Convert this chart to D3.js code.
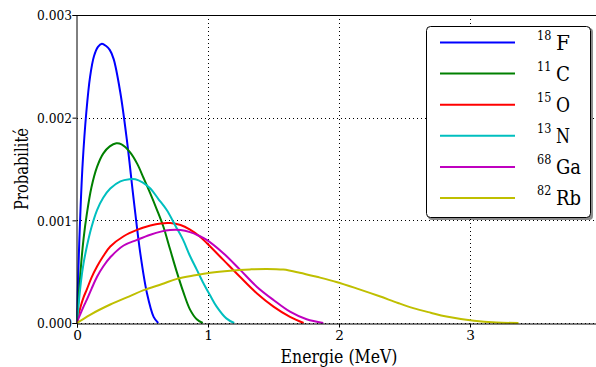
<!DOCTYPE html>
<html><head><meta charset="utf-8">
<script src="https://cdn.jsdelivr.net/npm/d3@7"></script>
<style>
html,body{margin:0;padding:0;background:#fff;}
</style></head>
<body>
<svg id="chart" width="596" height="367"></svg>
<script>
// Energies (MeV) and probabilities (in units of 0.001)
const f18E = [0, 0.01, 0.025, 0.043, 0.071, 0.1, 0.13, 0.16, 0.19, 0.22, 0.25, 0.28, 0.33, 0.38, 0.433, 0.483, 0.534, 0.585, 0.62];
const f18P = [0, 0.5, 1.05, 1.55, 2.05, 2.40, 2.60, 2.69, 2.72, 2.70, 2.66, 2.57, 2.25, 1.79, 1.20, 0.68, 0.29, 0.06, 0];
const c11E = [0, 0.01, 0.03, 0.05, 0.076, 0.11, 0.153, 0.2, 0.25, 0.3, 0.34, 0.407, 0.46, 0.509, 0.56, 0.608, 0.659, 0.71, 0.761, 0.812, 0.863, 0.914, 0.96];
const c11P = [0, 0.2, 0.55, 0.82, 1.07, 1.32, 1.52, 1.65, 1.72, 1.75, 1.74, 1.66, 1.55, 1.41, 1.26, 1.11, 0.94, 0.72, 0.50, 0.30, 0.13, 0.036, 0];
const n13E = [0, 0.01, 0.03, 0.05, 0.076, 0.11, 0.153, 0.2, 0.254, 0.331, 0.4, 0.445, 0.5, 0.56, 0.62, 0.685, 0.75, 0.81, 0.86, 0.914, 0.96, 1.02, 1.066, 1.14, 1.2];
const n13P = [0, 0.15, 0.4, 0.58, 0.75, 0.93, 1.10, 1.22, 1.31, 1.38, 1.40, 1.40, 1.37, 1.31, 1.21, 1.10, 0.95, 0.81, 0.66, 0.52, 0.40, 0.26, 0.16, 0.045, 0];
const o15E = [0, 0.01, 0.03, 0.05, 0.076, 0.11, 0.153, 0.2, 0.254, 0.356, 0.458, 0.56, 0.64, 0.712, 0.79, 0.863, 0.93, 0.99, 1.117, 1.244, 1.372, 1.5, 1.626, 1.73];
const o15P = [0, 0.07, 0.17, 0.25, 0.33, 0.44, 0.55, 0.65, 0.745, 0.845, 0.907, 0.95, 0.97, 0.973, 0.955, 0.91, 0.85, 0.78, 0.615, 0.45, 0.29, 0.16, 0.06, 0];
const ga68E = [0, 0.01, 0.03, 0.05, 0.076, 0.11, 0.153, 0.2, 0.254, 0.356, 0.458, 0.56, 0.64, 0.71, 0.79, 0.863, 0.93, 0.99, 1.117, 1.244, 1.372, 1.5, 1.626, 1.753, 1.88];
const ga68P = [0, 0.04, 0.1, 0.16, 0.23, 0.33, 0.45, 0.55, 0.64, 0.755, 0.81, 0.86, 0.89, 0.905, 0.905, 0.885, 0.85, 0.81, 0.68, 0.52, 0.354, 0.224, 0.11, 0.036, 0];
const rb82E = [0, 0.1, 0.254, 0.4, 0.509, 0.65, 0.763, 0.9, 1.018, 1.17, 1.32, 1.448, 1.575, 1.7, 1.83, 1.98, 2.15, 2.31, 2.45, 2.567, 2.7, 2.82, 3.03, 3.2, 3.37];
const rb82P = [0, 0.08, 0.18, 0.26, 0.32, 0.38, 0.43, 0.465, 0.49, 0.51, 0.522, 0.527, 0.52, 0.49, 0.45, 0.40, 0.33, 0.26, 0.195, 0.145, 0.1, 0.063, 0.022, 0.005, 0];

const seriesSup = ["18", "11", "15", "13", "68", "82"];
const seriesSym = ["F", "C", "O", "N", "Ga", "Rb"];
const seriesColors = ["#0000ff", "#008000", "#ff0000", "#00bfbf", "#bf00bf", "#bfbf00"];
const seriesData = [[f18E, f18P], [c11E, c11P], [o15E, o15P], [n13E, n13P], [ga68E, ga68P], [rb82E, rb82P]];

const xTicks = [0, 1, 2, 3, 4];
const yTicks = [0, 0.001, 0.002, 0.003];
const yTickLabels = ["0.000", "0.001", "0.002", "0.003"];
const xLabel = "Energie (MeV)";
const yLabel = "Probabilité";

const FONT = "DejaVu Serif";
const svg = d3.select("#chart");
const L = 77, T = 15, B = 323, R = 601;
const x = d3.scaleLinear().domain([0, 4]).range([L, R]);
const y = d3.scaleLinear().domain([0, 0.003]).range([B, T]);

// grid
const g = svg.append("g");
g.selectAll(".gx").data(xTicks.slice(1)).enter().append("line")
  .attr("x1", d => Math.round(x(d)) + 0.5).attr("x2", d => Math.round(x(d)) + 0.5)
  .attr("y1", T).attr("y2", B)
  .attr("stroke", "#000").attr("stroke-width", 1).attr("stroke-dasharray", "1,3");
g.selectAll(".gy").data(yTicks).enter().append("line")
  .attr("x1", L).attr("x2", R)
  .attr("y1", d => Math.round(y(d)) + 0.5).attr("y2", d => Math.round(y(d)) + 0.5)
  .attr("stroke", "#000").attr("stroke-width", 1).attr("stroke-dasharray", "1,3");

// curves
const line = d3.line().x(d => x(d[0])).y(d => y(d[1] * 0.001)).curve(d3.curveCatmullRom.alpha(0.5));
seriesData.forEach((s, i) => {
  const pts = s[0].map((e, k) => [e, s[1][k]]);
  svg.append("path").datum(pts).attr("d", line)
    .attr("fill", "none").attr("stroke", seriesColors[i]).attr("stroke-width", 2)
    .attr("stroke-linejoin", "round");
});

// axes (spines)
const xAxis = d3.axisBottom(x).tickValues(xTicks.slice(0, 4)).tickSize(4).tickFormat(d3.format("d"));
const yAxis = d3.axisLeft(y).tickValues(yTicks).tickSize(4).tickFormat((d, i) => yTickLabels[i]);
const gx = svg.append("g").attr("transform", `translate(0,${B + 0.5})`).call(xAxis);
const gy = svg.append("g").attr("transform", `translate(${L - 0.5},0)`).call(yAxis);
[gx, gy].forEach(a => {
  a.attr("font-family", FONT).attr("font-size", 13.7);
  a.select(".domain").attr("stroke", "#000");
  a.selectAll("text").attr("fill", "#000");
});
gx.selectAll(".tick text").attr("dy", "0").attr("y", 16.5);
gy.selectAll(".tick text").attr("x", -4.5).attr("dy", "0.36em")
  .attr("textLength", 35).attr("lengthAdjust", "spacingAndGlyphs");
svg.append("line").attr("x1", L).attr("x2", R).attr("y1", T + 0.5).attr("y2", T + 0.5).attr("stroke", "#000");

// labels
svg.append("text").attr("x", (L + R) / 2 - 58.5).attr("y", 362.5)
  .attr("font-family", FONT).attr("font-size", 18.4)
  .attr("textLength", 117).attr("lengthAdjust", "spacingAndGlyphs").text(xLabel);
svg.append("text").attr("transform", `translate(28,${(T + B) / 2 + 41}) rotate(-90)`)
  .attr("font-family", FONT).attr("font-size", 18.4)
  .attr("textLength", 82).attr("lengthAdjust", "spacingAndGlyphs").text(yLabel);

// legend
const lg = svg.append("g").attr("font-family", FONT);
lg.append("rect").attr("x", 428).attr("y", 28).attr("width", 165).attr("height", 192).attr("rx", 4)
  .attr("fill", "#000").attr("opacity", 0.45);
lg.append("rect").attr("x", 426.5).attr("y", 26.5).attr("width", 164).attr("height", 191).attr("rx", 4)
  .attr("fill", "#fff").attr("stroke", "#000").attr("stroke-width", 1);
seriesSym.forEach((sym, i) => {
  const cy = 42.5 + i * 31.1;
  lg.append("line").attr("x1", 440).attr("x2", 515).attr("y1", cy).attr("y2", cy)
    .attr("stroke", seriesColors[i]).attr("stroke-width", 2);
  lg.append("text").attr("x", 537).attr("y", cy - 3).attr("font-size", 12)
    .attr("textLength", 14.3).attr("lengthAdjust", "spacingAndGlyphs").text(seriesSup[i]);
  lg.append("text").attr("x", 556).attr("y", cy + 7).attr("font-size", 20.5)
    .attr("textLength", sym.length === 1 ? 14 : 25).attr("lengthAdjust", "spacingAndGlyphs").text(sym);
});
</script>
</body></html>
